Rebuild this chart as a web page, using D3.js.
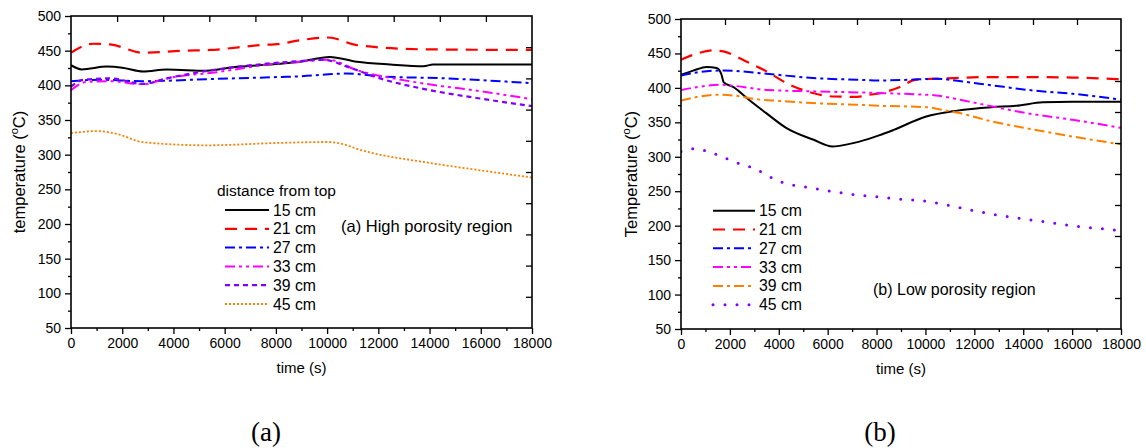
<!DOCTYPE html>
<html><head><meta charset="utf-8">
<script src="https://cdnjs.cloudflare.com/ajax/libs/d3/7.8.5/d3.min.js"></script>
<style>
body{margin:0;background:#fff}
svg{display:block}
text{font-family:"Liberation Sans",Arial,sans-serif;fill:#000}
</style>
</head><body>
<svg id="c" width="1146" height="448"></svg>
<script>
// ---------- data ----------
const seriesLabels = ["15 cm","21 cm","27 cm","33 cm","39 cm","45 cm"];
const xTicks = [0,2000,4000,6000,8000,10000,12000,14000,16000,18000];
const yTicks = [50,100,150,200,250,300,350,400,450,500];

// panel (a) High porosity region: [time s, temperature °C]
const a15 = [[0,429],[420,423],[1400,427],[2000,425.5],[2820,420],[3740,422.7],[5300,421],[6330,426],[8160,431],[8940,434],[10100,441],[11160,434],[12460,430],[13760,427.5],[14140,430],[16000,430],[18000,430]];
const a21 = [[0,447],[870,460],[1520,459],[2820,447],[4380,450],[5430,451],[7380,458],[8160,460],[8940,465],[10050,469],[11160,458],[13630,452],[18000,451]];
const a27 = [[0,406],[1130,408],[2800,406],[5430,409],[8160,412],[8940,413],[10770,417],[12070,413],[14670,410],[18000,403]];
const a33 = [[0,393],[610,405],[1520,406],[2820,401.5],[3740,410],[5690,419],[8160,432],[8940,434],[10030,437],[11160,422],[13370,405],[16000,391.5],[18000,380]];
const a39 = [[0,398],[480,408],[1520,410],[2820,402],[3740,410],[8940,435],[9850,437],[10770,427],[12070,410],[14020,393],[15970,381],[18000,370]];
const a45 = [[0,331],[1000,334],[1780,330],[2820,318],[5300,313.5],[8160,317],[10070,318.3],[10400,317],[11370,306],[14020,288],[15970,277.5],[18000,267]];

// panel (b) Low porosity region
const b15 = [[0,419],[500,425],[1050,430.5],[1460,429],[1650,420],[1750,408],[2150,401],[2700,385],[3500,363],[4300,342],[5400,325],[6200,315],[6800,318],[7300,322],[8100,331],[8700,339],[10000,358],[11300,367],[12700,372],[13700,374],[14800,379],[16000,380],[17000,380],[18000,380]];
const b21 = [[0,441],[640,449.6],[1320,454.4],[1730,453],[2690,438],[3500,424],[4450,404.5],[5400,392.5],[6240,387.5],[7200,387],[7720,390],[8170,392.5],[8930,401],[9610,412],[10430,413.3],[12750,415.7],[14380,415.7],[16010,415],[18000,412.5]];
const b27 = [[0,418],[640,422.4],[1730,425.3],[3500,420.5],[5400,414.3],[7200,411.8],[8170,410.8],[9350,411.8],[10440,413.3],[11520,409.3],[12750,403.6],[14390,396.3],[16020,391.5],[18000,383]];
const b33 = [[0,397],[640,401],[1590,404.5],[2150,403],[3500,397],[5400,395],[8170,392.5],[9350,391],[10440,389],[11520,382],[12750,373],[14130,363.4],[16020,353.7],[18000,342]];
const b39 = [[0,381.7],[640,386.7],[1460,390],[2150,389],[2970,384],[4050,381],[5400,378],[7180,375.5],[8170,374],[10030,372],[10710,368],[11390,363.4],[12750,351],[14120,341.6],[16020,329.4],[18000,318]];
const b45 = [[0,307.6],[500,311.6],[1590,301.4],[2150,293],[2970,283.5],[4050,264],[5400,254.4],[7180,244.7],[8170,241.4],[8970,238.4],[9920,236],[10740,231],[11830,223],[13190,214],[14820,206],[16020,200],[18000,193]];

// ---------- drawing ----------
const svg = d3.select("#c");

const stylesA = [
  {color:"#000000", dash:null, w:2},
  {color:"#ff0000", dash:"12,8", w:2.2},
  {color:"#0000ff", dash:"10,4,3,4", w:2},
  {color:"#ff00ff", dash:"10,4,3,4,3,4", w:2},
  {color:"#8000ff", dash:"5,4", w:2.2},
  {color:"#ff8000", dash:"2,2", w:1.8}
];
const stylesB = [
  {color:"#000000", dash:null, w:2},
  {color:"#ff0000", dash:"12,8", w:2.2},
  {color:"#0000ff", dash:"10,4,3,4", w:2},
  {color:"#ff00ff", dash:"10,4,3,4,3,4", w:2},
  {color:"#ff8000", dash:"10,4,3,4", w:2},
  {color:"#8000ff", dash:"0,12", w:3, cap:"round"}
];

function panel(o){
  const x = d3.scaleLinear().domain([0,18000]).range([o.left,o.right]);
  const y = d3.scaleLinear().domain([50,500]).range([o.bottom,o.top]);
  const g = svg.append("g");

  const cid = "clip"+o.id;
  svg.append("clipPath").attr("id",cid).append("rect")
    .attr("x",o.left).attr("y",o.top).attr("width",o.right-o.left).attr("height",o.bottom-o.top);

  const line = d3.line().x(d=>x(d[0])).y(d=>y(d[1])).curve(d3.curveMonotoneX);
  const lg = g.append("g").attr("clip-path","url(#"+cid+")");
  o.series.forEach((s,i)=>{
    const st = o.styles[i];
    lg.append("path").attr("d",line(s)).attr("fill","none")
      .attr("stroke",st.color).attr("stroke-width",st.w)
      .attr("stroke-dasharray",st.dash)
      .attr("stroke-linecap",st.cap||"butt");
  });

  const xa = d3.axisBottom(x).tickValues(xTicks).tickSize(6).tickPadding(4).tickFormat(d3.format("d"));
  const gx = g.append("g").attr("transform",`translate(0,${o.bottom})`).call(xa);
  gx.select(".domain").remove();
  gx.selectAll("text").attr("font-size",14).attr("font-family","Liberation Sans, Arial, sans-serif");
  const xm = d3.axisBottom(x).tickValues(d3.range(1000,18000,2000)).tickSize(3).tickFormat("");
  const gxm = g.append("g").attr("transform",`translate(0,${o.bottom})`).call(xm);
  gxm.select(".domain").remove();

  const ya = d3.axisLeft(y).tickValues(yTicks).tickSize(6).tickPadding(4);
  const gy = g.append("g").attr("transform",`translate(${o.left},0)`).call(ya);
  gy.select(".domain").remove();
  gy.selectAll("text").attr("font-size",14).attr("font-family","Liberation Sans, Arial, sans-serif");
  const ym = d3.axisLeft(y).tickValues(d3.range(75,500,50)).tickSize(3).tickFormat("");
  const gym = g.append("g").attr("transform",`translate(${o.left},0)`).call(ym);
  gym.select(".domain").remove();

  const xt = d3.scaleLinear().domain([0,10]).range([o.left,o.right]);
  const yr = d3.scaleLinear().domain([0,10]).range([o.bottom,o.top]);
  const gt = g.append("g").attr("transform",`translate(0,${o.top})`)
    .call(d3.axisBottom(xt).tickValues(d3.range(1,10)).tickSize(6).tickFormat(""));
  gt.select(".domain").remove();
  const gr = g.append("g").attr("transform",`translate(${o.right},0)`)
    .call(d3.axisLeft(yr).tickValues(d3.range(1,10)).tickSize(6).tickFormat(""));
  gr.select(".domain").remove();
  g.selectAll(".tick line").attr("stroke","#000").attr("stroke-width",1.3);

  g.append("rect").attr("x",o.left).attr("y",o.top)
    .attr("width",o.right-o.left).attr("height",o.bottom-o.top)
    .attr("fill","none").attr("stroke","#000").attr("stroke-width",1.6);

  g.append("text").attr("x",(o.left+o.right)/2).attr("y",o.bottom+45)
    .attr("text-anchor","middle").attr("font-size",15).text("time (s)");
  const yt = g.append("text").attr("transform",`translate(${o.ytx},${(o.top+o.bottom)/2}) rotate(-90)`)
    .attr("text-anchor","middle").attr("font-size",16.5);
  yt.append("tspan").text(o.ytitle+" (");
  yt.append("tspan").attr("font-size",11).attr("dy",-7).text("o");
  yt.append("tspan").attr("dy",7).text("C)");

  const lgd = g.append("g");
  if(o.legendTitle){
    lgd.append("text").attr("x",o.legTitleX).attr("y",o.legY-14).attr("font-size",15.5).text(o.legendTitle);
  }
  seriesLabels.forEach((lab,i)=>{
    const st = o.styles[i];
    const yy = o.legY + i*18.8;
    lgd.append("line").attr("x1",o.legX1).attr("x2",o.legX2).attr("y1",yy).attr("y2",yy)
      .attr("stroke",st.color).attr("stroke-width",st.w)
      .attr("stroke-dasharray",st.dash).attr("stroke-linecap",st.cap||"butt");
    lgd.append("text").attr("x",o.legX2+4).attr("y",yy+5.5).attr("font-size",15.8).text(lab);
  });

  g.append("text").attr("x",o.noteX).attr("y",o.noteY).attr("font-size",o.noteSize).text(o.note);

  g.append("text").attr("x",o.letterX).attr("y",441).attr("text-anchor","middle")
    .style("font-family","'Liberation Serif','Times New Roman',serif").attr("font-size",27).text(o.letter);
}

panel({id:"a", left:71, right:532, top:16, bottom:328,
  series:[a15,a21,a27,a33,a39,a45], styles:stylesA,
  ytitle:"temperature", ytx:25,
  legendTitle:"distance from top", legTitleX:217, legY:210, legX1:225, legX2:269,
  note:"(a) High porosity region", noteX:341, noteY:232, noteSize:16.5,
  letter:"(a)", letterX:266});

panel({id:"b", left:681, right:1121, top:19, bottom:329,
  series:[b15,b21,b27,b33,b39,b45], styles:stylesB,
  ytitle:"Temperature", ytx:637,
  legendTitle:null, legY:210.7, legX1:713, legX2:755,
  note:"(b) Low porosity region", noteX:873, noteY:295, noteSize:16,
  letter:"(b)", letterX:880});
</script>
</body></html>
